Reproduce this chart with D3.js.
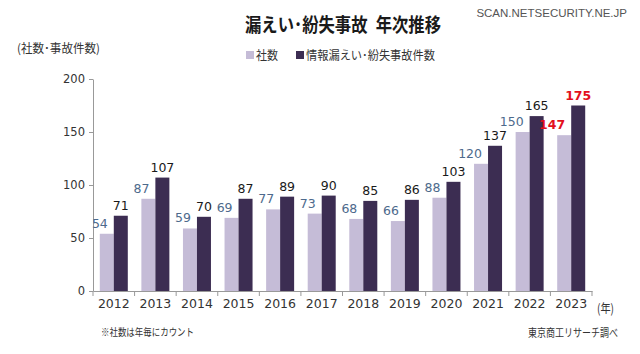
<!DOCTYPE html>
<html>
<head>
<meta charset="utf-8">
<script src="https://cdn.jsdelivr.net/npm/d3@7"></script>
<style>
  body { margin: 0; background: #fff; }
  svg { display: block; }
  .jp { font-family: "Noto Sans CJK JP", sans-serif; }
  .num { font-family: "DejaVu Sans", Verdana, sans-serif; }
</style>
</head>
<body>
<svg id="chart" width="640" height="354"></svg>
<script>
// data
var years = ["2012","2013","2014","2015","2016","2017","2018","2019","2020","2021","2022","2023"];
var companies = [54, 87, 59, 69, 77, 73, 68, 66, 88, 120, 150, 147];
var incidents = [71, 107, 70, 87, 89, 90, 85, 86, 103, 137, 165, 175];
var yTicks = [0, 50, 100, 150, 200];
var seriesNames = ["社数", "情報漏えい･紛失事故件数"];

var svg = d3.select("#chart");
var light = "#c5bcd7", dark = "#3c2d52";

var x = d3.scaleBand().domain(years).range([93, 592]).paddingInner(0).paddingOuter(0);
var y = d3.scaleLinear().domain([0, 200]).range([291, 79]);
var barW = 14;

// helper for condensed japanese text
function jpText(tx, ty, size, len, str) {
  return svg.append("text").attr("class", "jp")
    .attr("x", tx).attr("y", ty).attr("font-size", size).attr("fill", "#333")
    .attr("textLength", len).attr("lengthAdjust", "spacingAndGlyphs")
    .text(str);
}

// title
jpText(245, 32, 19, 196, "漏えい･紛失事故\u2002年次推移")
  .attr("font-weight", "bold").attr("fill", "#1a1a1a");

// watermark
svg.append("text")
  .attr("x", 627).attr("y", 17).attr("text-anchor", "end")
  .attr("font-family", "Liberation Sans, sans-serif")
  .attr("font-size", 11.5).attr("fill", "#555")
  .text("SCAN.NETSECURITY.NE.JP");

// unit label
jpText(17, 53, 12, 83, "(社数･事故件数)");

// legend
var legX = [246, 296], legLen = [22, 129];
seriesNames.forEach(function (n, i) {
  svg.append("rect").attr("x", legX[i]).attr("y", 51).attr("width", 8).attr("height", 8)
    .attr("fill", i ? dark : light);
  jpText(legX[i] + 10, 59.5, 12.5, legLen[i], n);
});

// y axis
var yAxis = svg.append("g").attr("transform", "translate(93,0)")
  .call(d3.axisLeft(y).tickValues(yTicks).tickSize(4).tickSizeOuter(0));
yAxis.select(".domain").attr("stroke", "#999");
yAxis.selectAll(".tick line").attr("stroke", "#999");
yAxis.selectAll(".tick text").attr("class", "num").attr("font-size", 11.5).attr("fill", "#333").attr("x", -8);

// x axis
var xAxis = svg.append("g").attr("transform", "translate(0,291)")
  .call(d3.axisBottom(x).tickSize(0).tickSizeOuter(0));
xAxis.select(".domain").attr("stroke", "#999");
xAxis.selectAll(".tick text").attr("class", "num").attr("font-size", 12.5).attr("fill", "#333").attr("dy", "1.1em");
xAxis.selectAll(".sep").data(years.concat(["end"])).enter().append("line")
  .attr("x1", function (d, i) { return x.range()[0] + i * x.step(); })
  .attr("x2", function (d, i) { return x.range()[0] + i * x.step(); })
  .attr("y1", 0).attr("y2", 5).attr("stroke", "#999");

jpText(597, 313, 12.5, 17, "(年)");

// bars
var cx = function (d) { return x(d) + x.bandwidth() / 2; };
svg.selectAll(".b1").data(years).enter().append("rect")
  .attr("x", function (d) { return cx(d) - barW; })
  .attr("y", function (d, i) { return y(companies[i]); })
  .attr("width", barW)
  .attr("height", function (d, i) { return y(0) - y(companies[i]); })
  .attr("fill", light);
svg.selectAll(".b2").data(years).enter().append("rect")
  .attr("x", function (d) { return cx(d); })
  .attr("y", function (d, i) { return y(incidents[i]); })
  .attr("width", barW)
  .attr("height", function (d, i) { return y(0) - y(incidents[i]); })
  .attr("fill", dark);

// value labels (light ones end at bar centre, dark ones centred)
var last = years.length - 1;
svg.selectAll(".l1").data(years).enter().append("text").attr("class", "num")
  .attr("x", function (d) { return cx(d) - barW / 2 + 1; })
  .attr("y", function (d, i) { return y(companies[i]) - 6; })
  .attr("text-anchor", "end")
  .attr("font-size", 12.5)
  .attr("font-weight", function (d, i) { return i === last ? "bold" : "normal"; })
  .attr("fill", function (d, i) { return i === last ? "#e3101c" : "#4d6a8c"; })
  .text(function (d, i) { return companies[i]; });
svg.selectAll(".l2").data(years).enter().append("text").attr("class", "num")
  .attr("x", function (d) { return cx(d) + barW / 2; })
  .attr("y", function (d, i) { return y(incidents[i]) - 6; })
  .attr("text-anchor", "middle")
  .attr("font-size", 12.5)
  .attr("font-weight", function (d, i) { return i === last ? "bold" : "normal"; })
  .attr("fill", function (d, i) { return i === last ? "#e3101c" : "#1a1a1a"; })
  .text(function (d, i) { return incidents[i]; });

// footnotes
jpText(101, 336, 10.5, 93, "※社数は年毎にカウント");
jpText(528, 337, 11, 90, "東京商工リサーチ調べ");
</script>
</body>
</html>
